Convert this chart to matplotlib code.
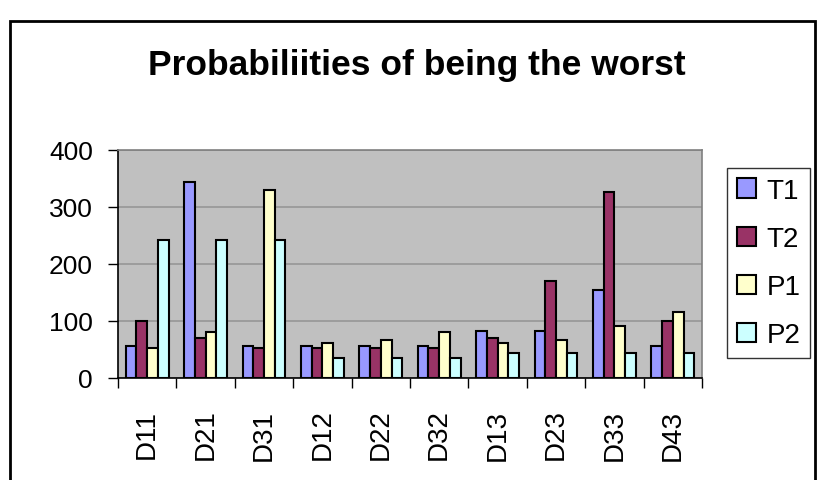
import matplotlib
matplotlib.use("Agg")
import matplotlib.pyplot as plt
import numpy as np
from matplotlib.patches import Rectangle

plt.rcParams['font.family'] = ['Liberation Sans', 'DejaVu Sans']

categories = ["D11", "D21", "D31", "D12", "D22", "D32", "D13", "D23", "D33", "D43"]
T1 = [57, 344, 57, 57, 57, 57, 83, 83, 154, 57]
T2 = [100, 70, 53, 53, 53, 53, 70, 171, 326, 100]
P1 = [52, 80, 330, 62, 66, 80, 61, 66, 92, 115]
P2 = [242, 242, 242, 35, 35, 35, 43, 43, 43, 43]
series = {"T1": T1, "T2": T2, "P1": P1, "P2": P2}
colors = {"T1": "#9999FF", "T2": "#993366", "P1": "#FFFFCC", "P2": "#CCFFFF"}
yticks = [0, 100, 200, 300, 400]

fig = plt.figure(figsize=(8.3, 4.81), dpi=100)
fig.patch.set_facecolor("white")
fig.patches.append(Rectangle((10/830, -0.2), 805/830, 1.2 - 22/481, transform=fig.transFigure,
                             fill=False, edgecolor="black", linewidth=2.0))

ax = fig.add_axes([118/830, 1 - 379/481, 584/830, 228/481])
ax.set_facecolor("#C0C0C0")
x = np.arange(len(categories))
w = 0.184
for i, (name, vals) in enumerate(series.items()):
    ax.bar(x + (i - 1.5) * w, vals, width=w, color=colors[name], edgecolor="black",
           linewidth=1.5, label=name, zorder=3)

ax.set_xlim(-0.5, len(categories) - 0.5)
ax.set_ylim(0, 400)
ax.set_yticks(yticks)
ax.set_yticklabels([str(t) for t in yticks], fontsize=19)
ax.yaxis.grid(True, color="#969696", linewidth=1.2, zorder=1)
ax.set_xticks(x)
ax.set_xticklabels(categories, rotation=90, fontsize=20)
ax.tick_params(axis="x", length=0, pad=22)
ax.set_xticks(np.arange(-0.5, len(categories)), minor=True)
ax.tick_params(axis="x", which="minor", length=7, width=1, color="black", direction="out")
ax.tick_params(axis="y", length=7, width=1, direction="out", pad=11)
for s in ["top", "right"]:
    ax.spines[s].set_color("#808080")
    ax.spines[s].set_linewidth(1.2)
for s in ["left", "bottom"]:
    ax.spines[s].set_color("black")
    ax.spines[s].set_linewidth(1.2)

fig.text(417/830, 1 - 66/481, "Probabiliities of being the worst", ha="center", va="center",
         fontsize=25.5, fontweight="bold")

leg = ax.legend(loc="upper left", bbox_to_anchor=(727/830, 1 - 169/481), bbox_transform=fig.transFigure,
                fontsize=20, frameon=True, fancybox=False, edgecolor="black", handlelength=0.68,
                handleheight=0.68, handletextpad=0.4, labelspacing=0.8, borderpad=0.35,
                borderaxespad=0)
leg.get_frame().set_linewidth(1.0)

fig.savefig("out.png", dpi=100)
